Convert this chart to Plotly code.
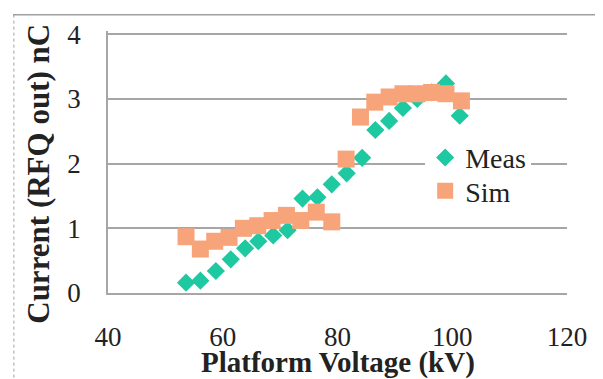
import plotly.graph_objects as go

meas_x = [53.6, 56.1, 58.8, 61.4, 63.9, 66.2, 68.8, 71.3, 73.9, 76.5,
          79.0, 81.6, 84.3, 86.6, 89.0, 91.4, 93.9, 96.4, 98.9, 101.3]
meas_y = [0.16, 0.19, 0.34, 0.52, 0.69, 0.80, 0.89, 0.97, 1.46, 1.48,
          1.68, 1.85, 2.09, 2.52, 2.66, 2.86, 3.00, 3.10, 3.24, 2.74]

sim_x = [53.6, 56.1, 58.6, 61.1, 63.6, 66.1, 68.6, 71.1, 73.6, 76.3,
         79.0, 81.5, 84.0, 86.5, 89.0, 91.4, 93.9, 96.4, 98.9, 101.6]
sim_y = [0.87, 0.68, 0.80, 0.86, 1.00, 1.04, 1.12, 1.20, 1.12, 1.25,
         1.10, 2.07, 2.72, 2.95, 3.03, 3.08, 3.08, 3.10, 3.08, 2.97]

x_ticks = [40, 60, 80, 100, 120]
y_ticks = [0, 1, 2, 3, 4]

FONT = "Liberation Serif, Times New Roman, serif"

fig = go.Figure()
fig.add_trace(go.Scatter(
    x=meas_x, y=meas_y, mode="markers", name="Meas", legend="legend",
    marker=dict(symbol="diamond", size=14, color="#1ec8a0", line=dict(width=0)),
))
fig.add_trace(go.Scatter(
    x=sim_x, y=sim_y, mode="markers", name="Sim", legend="legend2",
    marker=dict(symbol="square", size=17, color="#f8a47a", line=dict(width=0)),
))

leg_font = dict(size=28, family=FONT, color="#222222")

fig.update_layout(
    width=595, height=371,
    margin=dict(l=100, r=36, t=18, b=86),
    paper_bgcolor="white", plot_bgcolor="rgba(0,0,0,0)",
    font=dict(family=FONT, size=27, color="#222222"),
    showlegend=True,
    legend=dict(x=0.691, y=0.516, xanchor="left", yanchor="middle",
                bgcolor="white", font=leg_font, borderwidth=0),
    legend2=dict(x=0.691, y=0.389, xanchor="left", yanchor="middle",
                 bgcolor="rgba(0,0,0,0)", font=leg_font, borderwidth=0),
    xaxis=dict(
        range=[40, 120], tickvals=x_ticks, showgrid=False, zeroline=False,
        showline=True, linecolor="#a6a6a6", linewidth=1.5,
        ticks="", ticklabelstandoff=19,
        tickfont=dict(size=27, family=FONT),
    ),
    yaxis=dict(
        range=[0, 4.05], tickvals=y_ticks, showgrid=True, gridcolor="#a6a6a6",
        gridwidth=1.5, zeroline=False, showline=True, linecolor="#a6a6a6",
        linewidth=1.5, ticks="", ticklabelstandoff=20,
        tickfont=dict(size=27, family=FONT),
    ),
    annotations=[
        dict(text="<b>Platform Voltage (kV)</b>", xref="paper", yref="paper",
             x=0.501, y=-0.267, xanchor="center", yanchor="middle",
             showarrow=False, font=dict(size=29, family=FONT, color="#222222")),
        dict(text="<b>Current (RFQ out) nC</b>", xref="paper", yref="paper",
             x=-0.152, y=0.456, xanchor="center", yanchor="middle",
             textangle=-90, showarrow=False,
             font=dict(size=31, family=FONT, color="#222222")),
    ],
    shapes=[
        # top gridline at y = 4, drawn in data coordinates
        dict(type="line", xref="x", yref="y",
             x0=x_ticks[0], x1=x_ticks[-1], y0=y_ticks[-1], y1=y_ticks[-1],
             layer="below", line=dict(color="#a6a6a6", width=1.5)),
        # frame lines of the original image
        dict(type="line", xref="paper", yref="paper",
             x0=-0.207, x1=1.08, y0=1.0625, y1=1.0625,
             line=dict(color="#a0a0a0", width=1.5)),
        dict(type="line", xref="paper", yref="paper",
             x0=-0.205, x1=-0.205, y0=1.0625, y1=-0.326,
             line=dict(color="#a0a0a0", width=1, dash="dot")),
    ],
)

fig.write_html("out.html")
